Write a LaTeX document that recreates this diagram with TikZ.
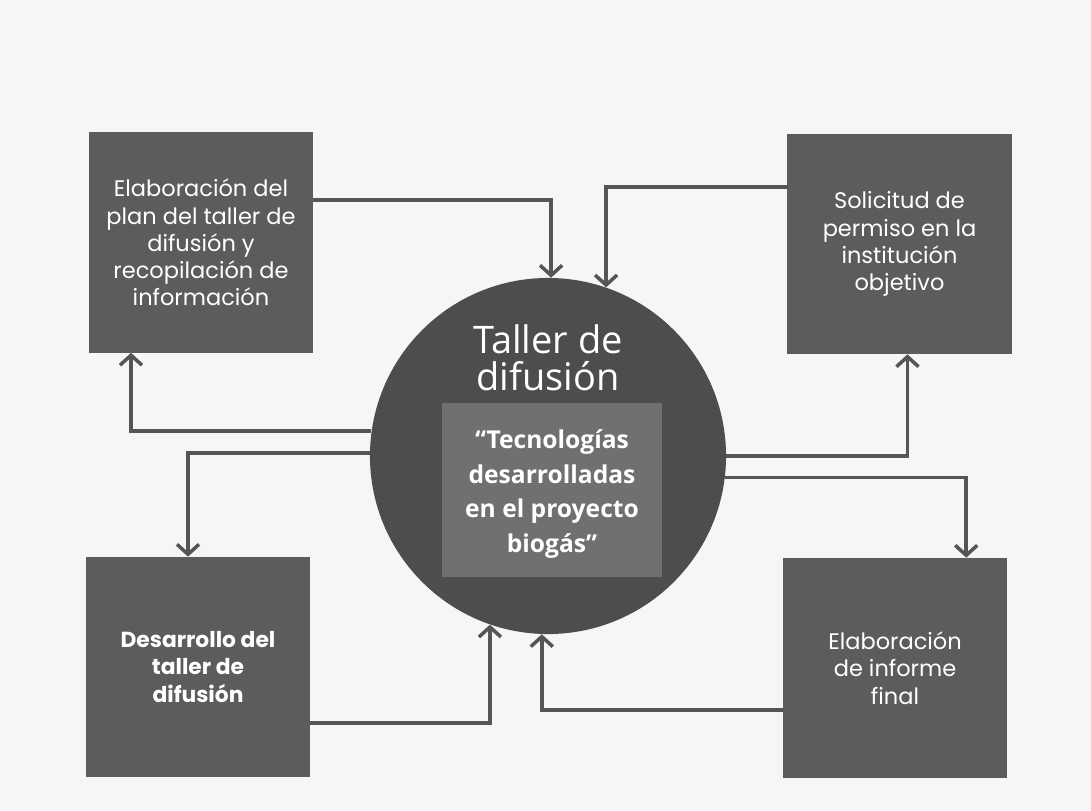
\documentclass[tikz,border=0pt]{standalone}
\usepackage{fontspec}
\setmainfont{Poppins}
\newfontfamily\titlefont{Open Sans}
\usetikzlibrary{arrows.meta}

\definecolor{paper}{HTML}{F6F6F6}
\definecolor{boxgray}{HTML}{5C5C5C}
\definecolor{circgray}{HTML}{4D4D4D}
\definecolor{innergray}{HTML}{707070}
\definecolor{linegray}{HTML}{555555}

\begin{document}
\begin{tikzpicture}[x=0.025cm, y=-0.025cm,
    stagebox/.style={fill=boxgray, text=white, minimum width=5.6cm, minimum height=5.5cm,
        inner sep=0pt, align=center, font=\fontsize{16}{19.4}\selectfont},
    flow/.style={-{Straight Barb[length=2.5mm, width=5.5mm]}, line width=2.5pt, draw=linegray}]

    % Page
    \fill[paper] (0,0) rectangle (1091,810);

    % Central workshop
    \node[circle, fill=circgray, minimum size=8.9cm, inner sep=0pt] (circ) at (548,456) {};
    \node[fill=innergray, minimum width=5.5cm, minimum height=4.35cm, inner sep=0pt] (inner) at (552,490) {};
    \node[text=white, align=center, font=\titlefont\fontsize{27}{26}\selectfont] (title) at (548,358)
        {Taller de\\difusión};
    \node[text=white, align=center, font=\titlefont\bfseries\fontsize{17.5}{24.8}\selectfont] (topic) at (552,494)
        {“Tecnologías\\desarrolladas\\en el proyecto\\biogás”};

    % Stages
    \node[stagebox] (tl) at (201,242.5) {Elaboración del\\plan del taller de\\difusión y\\recopilación de\\información};
    \node[stagebox] (tr) at (899.5,244) {Solicitud de\\permiso en la\\institución\\objetivo};
    \node[stagebox, font=\bfseries\fontsize{15.5}{19.6}\selectfont] (bl) at (198,667) {Desarrollo del\\taller de\\difusión};
    \node[stagebox] (br) at (895,668) {Elaboración\\de informe\\final};

    % Arrows into the workshop
    \draw[flow] ([yshift=1.06cm]tl.east) -| (circ.89);
    \draw[flow] ([yshift=1.43cm]tr.west) -| (circ.71);
    \draw[flow] ([yshift=-1.4cm]bl.east) -| (circ.251);
    \draw[flow] ([yshift=-1.05cm]br.west) -| (circ.268);

    % Arrows out of the workshop
    \draw[flow] (circ.172) -| ([xshift=-1.75cm]tl.south);
    \draw[flow] (circ.179) -| ([xshift=-0.25cm]bl.north);
    \draw[flow] (circ.0) -| ([xshift=0.2cm]tr.south);
    \draw[flow] (circ.353) -| ([xshift=1.78cm]br.north);
\end{tikzpicture}
\end{document}
